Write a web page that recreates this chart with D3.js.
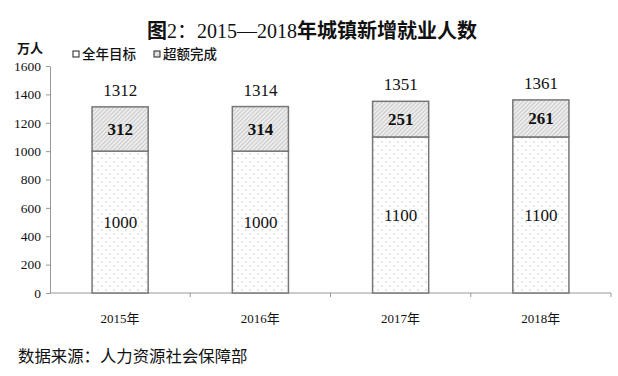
<!DOCTYPE html>
<html><head><meta charset="utf-8">
<script src="https://cdn.jsdelivr.net/npm/d3@7"></script>
<style>body{margin:0;background:#fff}svg{display:block}</style>
</head><body><svg id="c" width="618" height="376"></svg>
<script>
const years = ["2015年","2016年","2017年","2018年"];
const targets = [1000,1000,1100,1100];
const exceeded = [312,314,251,261];
const totals = [1312,1314,1351,1361];
const yTicks = [0,200,400,600,800,1000,1200,1400,1600];
const legendNames = ["全年目标","超额完成"];
const titleParts = [["图",700],["2：2015—2018",400],["年城镇新增就业人数",700]];

const svg = d3.select("#c");
const serif = "'Liberation Serif','Times New Roman','Noto Sans CJK SC',serif";
const cjk = "'Noto Sans CJK SC',sans-serif";
const defs = svg.append("defs");
const dots = defs.append("pattern").attr("id","dots").attr("patternUnits","userSpaceOnUse").attr("width",8).attr("height",8);
dots.append("rect").attr("width",8).attr("height",8).attr("fill","#fff");
dots.append("circle").attr("cx",2).attr("cy",2).attr("r",0.7).attr("fill","#b8b8b8");
dots.append("circle").attr("cx",6).attr("cy",6).attr("r",0.7).attr("fill","#b8b8b8");
const hatch = defs.append("pattern").attr("id","hatch").attr("patternUnits","userSpaceOnUse").attr("width",3).attr("height",3).attr("patternTransform","rotate(45)");
hatch.append("rect").attr("width",3).attr("height",3).attr("fill","#ececec");
hatch.append("line").attr("x1",0).attr("y1",0).attr("x2",0).attr("y2",3).attr("stroke","#a8a8a8").attr("stroke-width",1);

const x = d3.scaleBand().domain(years).range([50,611]).paddingInner(0.6).paddingOuter(0.3);
const y = d3.scaleLinear().domain([0,1600]).range([293,66]);

// title
const tt = svg.append("text").attr("x",312).attr("y",38).attr("text-anchor","middle")
  .attr("font-family",serif).attr("font-size",20).attr("fill","#111");
titleParts.forEach(p=>tt.append("tspan").attr("font-weight",p[1]).text(p[0]));
svg.append("text").attr("x",30).attr("y",53).attr("text-anchor","middle")
  .attr("font-family",cjk).attr("font-size",13).attr("font-weight",700).attr("fill","#111").text("万人");

// legend
const lg = [{x:73,fill:"#fff"},{x:154,fill:"url(#hatch)"}];
lg.forEach((l,i)=>{
  svg.append("rect").attr("x",l.x).attr("y",51).attr("width",6).attr("height",6).attr("fill",l.fill).attr("stroke","#222").attr("stroke-width",1);
  svg.append("text").attr("x",l.x+9).attr("y",59).attr("font-family",cjk).attr("font-size",13.5).attr("font-weight",500).attr("fill","#111").text(legendNames[i]);
});

// y axis
const ya = svg.append("g").attr("transform","translate(50,0)")
  .call(d3.axisLeft(y).tickValues(yTicks).tickFormat(d3.format("d")).tickSize(4).tickSizeOuter(0).tickPadding(5));
ya.attr("font-family",serif).attr("font-size",13);
ya.select(".domain").attr("stroke","#999");
ya.selectAll(".tick line").attr("stroke","#999");
ya.selectAll("text").attr("font-family",serif).attr("font-size",13.5).attr("fill","#111");

// x axis
const xa = svg.append("g").attr("transform","translate(0,293)");
xa.append("line").attr("x1",50).attr("x2",611).attr("stroke","#999");
const bounds = years.map(d=>x(d)+x.bandwidth()/2+x.step()/2);
xa.selectAll(".tk").data(bounds).join("line").attr("x1",d=>d).attr("x2",d=>d).attr("y1",0).attr("y2",4).attr("stroke","#999");
xa.selectAll(".lb").data(years).join("text").attr("x",d=>x(d)+x.bandwidth()/2).attr("y",30)
  .attr("text-anchor","middle").attr("font-family",serif).attr("font-size",13).attr("fill","#111").text(d=>d);

// bars
const g = svg.append("g");
years.forEach((yr,i)=>{
  const bx = x(yr), bw = x.bandwidth();
  g.append("rect").attr("x",bx).attr("y",y(targets[i])).attr("width",bw).attr("height",y(0)-y(targets[i]))
    .attr("fill","url(#dots)").attr("stroke","#777").attr("stroke-width",1.5);
  g.append("rect").attr("x",bx).attr("y",y(totals[i])).attr("width",bw).attr("height",y(targets[i])-y(totals[i]))
    .attr("fill","url(#hatch)").attr("stroke","#777").attr("stroke-width",1.5);
  g.append("text").attr("x",bx+bw/2).attr("y",(y(0)+y(targets[i]))/2+6).attr("text-anchor","middle")
    .attr("font-family",serif).attr("font-size",17).attr("fill","#111").text(targets[i]);
  g.append("text").attr("x",bx+bw/2).attr("y",(y(targets[i])+y(totals[i]))/2+6).attr("text-anchor","middle")
    .attr("font-family",serif).attr("font-size",17).attr("font-weight",700).attr("fill","#111").text(exceeded[i]);
  g.append("text").attr("x",bx+bw/2).attr("y",y(totals[i])-11).attr("text-anchor","middle")
    .attr("font-family",serif).attr("font-size",17).attr("fill","#111").text(totals[i]);
});

svg.append("text").attr("x",18).attr("y",362).attr("font-family",cjk).attr("font-size",16.4).attr("fill","#111")
  .text("数据来源：人力资源社会保障部");
</script></body></html>
